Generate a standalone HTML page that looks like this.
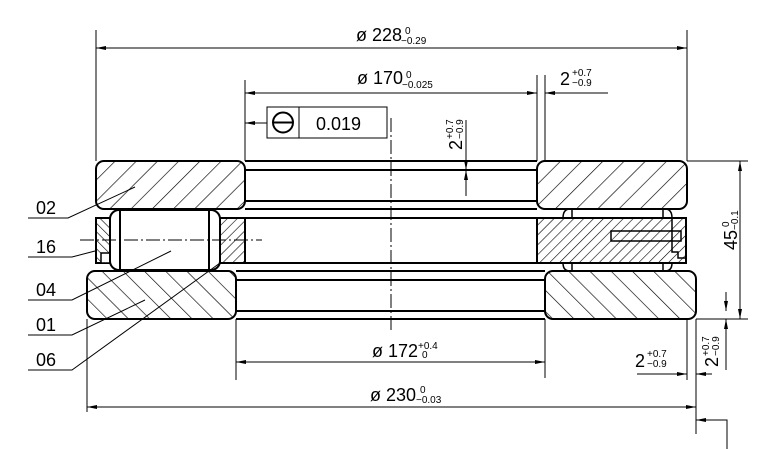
<!DOCTYPE html>
<html><head><meta charset="utf-8"><style>
html,body{margin:0;padding:0;background:#fff;}
svg{display:block;font-family:"Liberation Sans",sans-serif;}
</style></head><body>
<svg width="758" height="449" viewBox="0 0 758 449" xmlns="http://www.w3.org/2000/svg">
<defs>
<pattern id="hA" patternUnits="userSpaceOnUse" width="15" height="15" patternTransform="rotate(45)"><line x1="0" y1="0" x2="0" y2="15" stroke="#000" stroke-width="1.3"/></pattern>
<pattern id="hB" patternUnits="userSpaceOnUse" width="15" height="15" patternTransform="rotate(-45)"><line x1="0" y1="0" x2="0" y2="15" stroke="#000" stroke-width="1.3"/></pattern>
<pattern id="hC" patternUnits="userSpaceOnUse" width="7" height="7" patternTransform="rotate(45)"><line x1="0" y1="0" x2="0" y2="7" stroke="#000" stroke-width="1.2"/></pattern>
<pattern id="hD" patternUnits="userSpaceOnUse" width="6" height="6" patternTransform="rotate(-45)"><line x1="0" y1="0" x2="0" y2="6" stroke="#000" stroke-width="1.2"/></pattern>
<marker id="ar" viewBox="0 0 10 4" refX="10" refY="2" markerWidth="10" markerHeight="4" markerUnits="userSpaceOnUse" orient="auto-start-reverse"><path d="M0,0 L10,2 L0,4 z" fill="#000"/></marker>
</defs>
<g fill="none" stroke="#000">
<g stroke-width="2">
<line x1="245" y1="161" x2="537" y2="161"/><line x1="245" y1="170" x2="537" y2="170"/>
<line x1="245" y1="201" x2="537" y2="201"/><line x1="245" y1="209" x2="537" y2="209"/>
<line x1="245" y1="218" x2="537" y2="218"/><line x1="245" y1="263" x2="537" y2="263"/>
<line x1="236" y1="271" x2="545" y2="271"/><line x1="236" y1="280" x2="545" y2="280"/>
<line x1="236" y1="311" x2="545" y2="311"/><line x1="236" y1="319" x2="545" y2="319"/>
</g>
<rect x="96" y="161" width="149" height="48" rx="8" fill="url(#hA)" stroke-width="2"/>
<rect x="537" y="161" width="150" height="48" rx="8" fill="url(#hA)" stroke-width="2"/>
<rect x="87" y="271" width="149" height="48" rx="8" fill="url(#hB)" stroke-width="2"/>
<rect x="545" y="271" width="151" height="48" rx="8" fill="url(#hB)" stroke-width="2"/>
<rect x="96" y="218" width="14" height="45" fill="url(#hD)" stroke-width="2"/>
<rect x="101" y="253" width="9" height="10" fill="#fff" stroke-width="1.5"/>
<rect x="220" y="218" width="25" height="45" fill="url(#hC)" stroke-width="2"/>
<rect x="110" y="210" width="110" height="60" rx="9" fill="#fff" stroke-width="2"/>
<line x1="120" y1="210" x2="120" y2="270" stroke-width="2"/><line x1="209" y1="210" x2="209" y2="270" stroke-width="2"/>
<rect x="537" y="218" width="149" height="45" fill="url(#hC)" stroke-width="2"/>
<rect x="611" y="231" width="70" height="10" fill="none" stroke-width="1.5"/>
<polyline points="672,218 672,252 678,252 678,258 686,258" stroke-width="1.5"/>
<path d="M563,218 Q563,209 570,209 M572,209 L572,218 M663,209 L663,218 M665,209 Q672,209 672,218 M563,263 Q563,271 570,271 M572,263 L572,271 M663,263 L663,271 M665,271 Q672,271 672,263" stroke-width="1.5"/>
<line x1="391" y1="118" x2="391" y2="330" stroke-width="1" stroke-dasharray="14,3,2,3"/>
<line x1="80" y1="240" x2="262" y2="240" stroke-width="1" stroke-dasharray="14,3,2,3"/>
<g stroke-width="1">
<line x1="96" y1="30" x2="96" y2="161"/><line x1="687" y1="30" x2="687" y2="161"/>
<line x1="96" y1="48" x2="687" y2="48" marker-start="url(#ar)" marker-end="url(#ar)"/>
<line x1="245" y1="80" x2="245" y2="161"/><line x1="537" y1="75" x2="537" y2="161"/><line x1="545" y1="75" x2="545" y2="161"/>
<line x1="245" y1="93" x2="537" y2="93" marker-start="url(#ar)" marker-end="url(#ar)"/>
<line x1="608" y1="93" x2="545" y2="93" marker-end="url(#ar)"/>
<rect x="267" y="107" width="120" height="31"/><line x1="299" y1="107" x2="299" y2="138"/>
<line x1="267" y1="123" x2="245" y2="123" marker-end="url(#ar)"/>
<line x1="466" y1="120" x2="466" y2="170" marker-end="url(#ar)"/>
<line x1="466" y1="196" x2="466" y2="170" marker-end="url(#ar)"/>
<line x1="687" y1="161" x2="748" y2="161"/><line x1="696" y1="319" x2="748" y2="319"/>
<line x1="740" y1="161" x2="740" y2="319" marker-start="url(#ar)" marker-end="url(#ar)"/>
<line x1="726" y1="292" x2="726" y2="311" marker-end="url(#ar)"/>
<line x1="726" y1="319" x2="726" y2="370"/>
<line x1="726" y1="340" x2="726" y2="319" marker-end="url(#ar)"/>
<line x1="236" y1="319" x2="236" y2="380"/><line x1="545" y1="319" x2="545" y2="378"/>
<line x1="236" y1="362" x2="545" y2="362" marker-start="url(#ar)" marker-end="url(#ar)"/>
<line x1="687" y1="319" x2="687" y2="380"/><line x1="696" y1="319" x2="696" y2="434"/>
<line x1="637" y1="374" x2="687" y2="374" marker-end="url(#ar)"/>
<line x1="712" y1="374" x2="696" y2="374" marker-end="url(#ar)"/>
<line x1="87" y1="319" x2="87" y2="412"/>
<line x1="87" y1="407" x2="696" y2="407" marker-start="url(#ar)" marker-end="url(#ar)"/>
<polyline points="727,449 727,420 696,420" marker-end="url(#ar)"/>
<polyline points="28,218 68,218 135,187"/>
<polyline points="28,257 72,257 95,251"/>
<polyline points="28,300 72,300 171,251"/>
<polyline points="28,335 72,335 145,300"/>
<polyline points="28,370 72,370 220,263"/>
</g>
<circle cx="283" cy="122.5" r="10" stroke-width="2"/><line x1="273" y1="122.5" x2="293" y2="122.5" stroke-width="2"/>
</g>
<g fill="#000" font-size="18">
<text x="356" y="41">ø 228</text><text x="405" y="34" font-size="10">0</text><text x="401" y="44" font-size="10">−0.29</text>
<text x="357" y="84">ø 170</text><text x="406" y="78" font-size="10">0</text><text x="402" y="88" font-size="10">−0.025</text>
<text x="560" y="85">2</text><text x="572" y="76" font-size="10">+0.7</text><text x="572" y="86" font-size="10">−0.9</text>
<text x="316" y="130" font-size="18">0.019</text>
<g transform="translate(462,150) rotate(-90)"><text x="0" y="0">2</text><text x="11" y="-9" font-size="10">+0.7</text><text x="11" y="1" font-size="10">−0.9</text></g>
<g transform="translate(737,250) rotate(-90)"><text x="0" y="0">45</text><text x="23" y="-8" font-size="10">0</text><text x="20" y="1" font-size="10">−0.1</text></g>
<g transform="translate(718,367) rotate(-90)"><text x="0" y="0">2</text><text x="11" y="-9" font-size="10">+0.7</text><text x="11" y="1" font-size="10">−0.9</text></g>
<text x="372" y="357">ø 172</text><text x="418" y="349" font-size="10">+0.4</text><text x="422" y="358" font-size="10">0</text>
<text x="635" y="367">2</text><text x="647" y="357" font-size="10">+0.7</text><text x="647" y="367" font-size="10">−0.9</text>
<text x="370" y="401">ø 230</text><text x="420" y="393" font-size="10">0</text><text x="416" y="403" font-size="10">−0.03</text>
<text x="36" y="214">02</text><text x="36" y="253">16</text><text x="36" y="296">04</text>
<text x="36" y="331">01</text><text x="36" y="366">06</text>
</g>
</svg>
</body></html>
